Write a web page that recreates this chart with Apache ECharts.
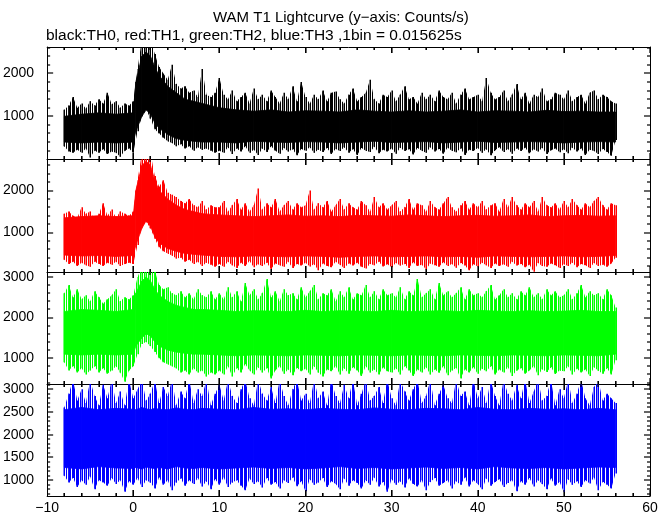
<!DOCTYPE html>
<html>
<head>
<meta charset="utf-8">
<script src="https://cdn.jsdelivr.net/npm/echarts@6/dist/echarts.min.js"></script>
<style>html,body{margin:0;padding:0;background:#fff;}#c{width:672px;height:515px;}</style>
</head>
<body>
<div id="c"></div>
<script>
// ---- Data ----
// Spike envelope: bins every 0.5 s from t = -8 s to t = 56 s (129 bins), high / low extreme (Counts/s)
const binStart = -8;
const binStep = 0.5;

const th0Hi = [1150,1250,1450,1200,1300,1180,1350,1250,1400,1300,1550,1280,1350,1200,1300,1250,
  1350,2100,2800,2800,2800,2450,2150,2000,1850,2200,1750,1650,1700,1550,1600,1450,2100,1500,1450,1550,
  1890,1500,1400,1600,1350,1450,1550,1300,1650,1400,
  1500,1350,1600,1450,1300,1550,1400,1700,1350,1800,
  1450,1300,1500,1400,1600,1350,1550,1580,1400,1300,
  1500,1650,1350,1450,1550,1850,1400,1300,1500,1450,
  1600,1350,1500,1700,1400,1450,1300,1550,1400,1500,
  1350,1600,1450,1400,1550,1300,1500,1650,1400,1450,
  1500,1350,1890,1550,1400,1450,1600,1350,1500,1750,
  1400,1550,1300,1500,1450,1650,1350,1400,1550,1500,
  1400,1600,1350,1450,1500,1300,1550,1600,1400,1500,
  1450,1350,1300];
const th0Lo = [300,180,150,220,150,250,40,200,150,230,120,180,150,60,200,250,
  150,650,1000,1150,950,700,600,500,420,380,300,350,250,300,200,280,220,250,200,150,
  200,150,280,120,250,180,300,150,220,100,
  250,170,300,200,130,260,180,230,90,240,
  200,280,150,220,170,260,120,240,190,280,
  150,230,100,260,200,170,290,140,220,180,
  250,130,270,190,230,110,260,200,150,280,
  180,240,130,270,200,160,250,100,220,190,
  260,150,230,90,210,280,170,240,130,250,
  190,270,140,230,180,260,120,210,250,160,
  230,140,270,180,250,100,220,190,120,240,
  170,80,450];

const th1Hi = [1450,1500,1400,1350,1600,1450,1500,1300,1450,1700,1400,1550,1350,1500,1450,1400,
  1500,2250,2900,2900,2900,2350,2100,2250,1950,1900,1850,1750,1700,1800,1650,1600,1750,1550,1650,1600,
  1600,1750,1500,1650,1800,1550,1700,1500,1650,2050,
  1550,1700,1600,1800,1500,1650,1750,1550,1700,1600,
  1650,2000,1550,1700,1600,1750,1500,1650,1800,1550,
  1700,1600,1550,1750,1650,1500,1850,1600,1700,1550,
  1650,1750,1500,1600,1800,1550,1700,1650,1500,1750,
  1600,1550,1700,1850,1600,1500,1650,1750,1550,1700,
  1600,1750,1550,1650,1700,1500,1800,1600,1850,1650,
  1550,1700,1600,1750,1500,1850,1650,1600,1700,1550,
  1750,1600,1800,1650,1550,1700,1600,1750,1850,1650,
  1550,1700,1650];
const th1Lo = [350,250,300,200,280,220,180,300,250,200,280,230,300,200,250,280,
  250,700,1150,1250,1100,850,650,550,500,450,380,400,300,350,250,300,200,280,230,180,
  250,180,300,220,150,280,200,320,170,240,
  200,280,130,260,220,180,300,150,250,210,
  280,190,240,100,260,200,170,300,230,150,
  260,210,280,180,140,250,220,300,190,240,
  170,270,210,250,150,290,200,230,120,260,
  220,180,290,200,250,160,270,210,100,240,
  190,280,220,150,260,200,240,180,300,210,
  250,170,230,60,270,200,180,260,220,150,
  240,200,280,170,250,220,150,270,200,230,
  180,260,400];

const th2Hi = [2600,2800,2500,2700,2450,2550,2400,2650,2500,2350,2450,2550,2700,2400,2500,2450,
  2550,3000,3250,3250,3250,3150,2800,2700,2750,2600,2550,2650,2500,2600,2450,2700,2550,2500,2650,2450,
  2600,2450,2750,2500,2650,2400,2850,2550,2700,2450,
  2600,2950,2500,2650,2400,2700,2550,2600,2450,2750,
  2500,2650,2800,2450,2600,2550,2700,2400,2650,2500,
  2750,2450,2600,2550,2800,2500,2650,2450,2700,2550,
  2600,2500,2750,2450,2650,2550,2950,2500,2600,2700,
  2450,2850,2550,2650,2500,2600,2750,2450,2700,2550,
  2600,2500,2650,2800,2450,2550,2700,2500,2600,2450,
  2650,2550,2750,2500,2600,2450,2700,2550,2650,2500,
  2550,2700,2450,2600,2800,2500,2650,2550,2600,2450,
  2700,2550,2250];
const th2Lo = [900,700,800,650,750,600,700,800,650,750,620,700,800,650,420,700,
  800,1100,1350,1400,1300,1150,1000,900,850,800,750,650,700,600,750,650,700,550,650,600,
  700,600,800,550,750,650,850,700,600,780,
  650,750,500,700,800,620,720,580,760,680,
  740,600,800,650,550,720,680,800,600,750,
  620,780,700,560,800,650,720,600,770,680,
  650,750,600,800,700,560,720,650,780,600,
  720,640,800,580,700,760,500,720,650,780,
  620,740,680,800,600,720,650,780,560,700,
  750,620,700,800,580,730,660,780,610,700,
  680,800,600,740,650,720,560,780,690,620,
  750,600,950];

const th3Hi = [2600,2900,3200,2750,3000,2700,3200,2850,2650,3100,
  2800,3200,2700,2950,2650,3200,2800,3000,3200,2750,
  2900,3200,2700,3050,2850,3200,2650,2950,2800,3200,
  2700,3000,2850,3200,2650,2900,3100,2750,3200,2850,
  2700,3000,3200,2800,2650,3200,2900,2750,3050,2700,
  3200,2850,2650,3000,3200,2750,2900,2700,3200,2800,
  2950,2650,3200,2850,2700,3100,2800,3200,2650,2900,
  3200,2750,2850,3050,2700,3200,2800,2650,3200,2950,
  2750,3000,3200,2700,2850,3200,2650,2900,3100,2800,
  2700,3200,2850,2950,2650,3200,2800,3050,2700,3200,
  2850,2650,3200,2900,2750,3100,2800,3200,2700,2950,
  3200,2750,2850,3200,2650,3000,2800,3200,2700,2900,
  3200,2800,2650,3050,3200,2750,2900,2800,2700];
const th3Lo = [1100,950,1050,850,1000,900,1080,800,1000,950,
  880,1050,920,1000,750,980,900,1050,850,1000,
  950,820,1060,900,1000,780,950,1040,880,1000,
  920,1050,860,980,800,1020,900,1060,850,950,
  1000,880,780,1040,920,980,840,1050,900,960,
  820,1000,940,1060,870,980,760,1020,900,950,
  1050,850,980,920,800,1040,880,1000,940,820,
  1000,900,1060,860,960,750,1020,900,980,840,
  1040,920,860,1000,780,960,1050,880,940,1000,
  820,980,900,1060,860,1000,920,800,1040,880,
  960,1020,850,940,1000,760,980,900,1050,860,
  1000,920,800,1040,880,960,740,1020,900,980,
  850,1000,930,1060,780,960,900,820,1150];

// Dense core of each light curve (solid region), read at these times (s)
const coreT = [-8,-6,-4,-2,0,0.3,1,1.5,2,2.5,3,4,5,6,7,8,10,12,14,16,18,20,22,24,26,28,30,32,34,36,38,40,42,44,46,48,50,52,54,56];
const th0CoreHi = [1000,1050,1080,1050,1080,1800,2400,2500,2400,2150,1950,1700,1550,1400,1350,1300,
  1200,1150,1120,1150,1100,1130,1120,1100,1150,1120,1100,1130,1100,1120,1150,1100,1130,1120,1100,1140,1110,1120,1100,1100];
const th0CoreLo = [400,380,400,380,400,650,1000,1150,1050,850,720,580,480,440,420,400,
  400,380,420,400,390,410,400,380,400,420,390,400,410,380,400,420,390,400,410,400,380,400,410,400];
const th1CoreHi = [1350,1380,1400,1380,1400,2000,2600,2700,2600,2250,2000,1800,1650,1550,1500,1450,
  1420,1400,1380,1400,1420,1390,1400,1380,1410,1400,1390,1420,1400,1380,1400,1410,1390,1400,1420,1380,1400,1410,1390,1400];
const th1CoreLo = [460,440,450,430,450,700,1100,1280,1150,900,750,620,550,500,480,460,
  430,420,440,430,420,440,430,410,430,440,420,430,440,420,430,410,440,430,420,430,440,420,430,450];
const th2CoreHi = [2150,2200,2180,2150,2200,2600,2900,3000,2900,2700,2550,2400,2300,2250,2200,2200,
  2180,2150,2170,2160,2150,2180,2150,2170,2160,2150,2180,2150,2160,2170,2150,2180,2160,2150,2170,2150,2160,2180,2150,2150];
const th2CoreLo = [1100,1080,1100,1080,1100,1300,1500,1600,1550,1400,1300,1200,1150,1120,1100,1100,
  1080,1060,1080,1070,1060,1080,1070,1060,1080,1070,1060,1080,1070,1060,1080,1070,1060,1080,1070,1060,1080,1070,1060,1100];
const th3CoreHi = [2550,2600,2550,2580,2560,2550,2600,2570,2550,2580,2560,2550,2590,2560,2550,2580,2560,2550,2600,2560,
  2570,2550,2580,2560,2550,2590,2560,2550,2580,2570,2550,2600,2560,2550,2580,2560,2570,2550,2580,2550];
const th3CoreLo = [1280,1250,1300,1270,1260,1280,1250,1290,1270,1260,1280,1250,1300,1270,1260,1280,1250,1270,1290,1260,
  1280,1250,1270,1300,1260,1280,1250,1270,1290,1260,1280,1250,1300,1270,1260,1280,1250,1270,1290,1280];

// Axis ranges and tick labels
const xRange = [-10, 60];
const xTickLabels = [-10, 0, 10, 20, 30, 40, 50, 60];
const xMinorStep = 2;
const yRanges = [[5, 2615], [57, 2755], [365, 3123], [654, 3115]];
const yMajor = [[1000, 2000], [1000, 2000], [1000, 2000, 3000], [1000, 1500, 2000, 2500, 3000]];
const yMinorStep = [200, 200, 200, 100];

const colors = ['#000000', '#ff0000', '#00ff00', '#0000ff'];
const spikes = [[th0Hi, th0Lo], [th1Hi, th1Lo], [th2Hi, th2Lo], [th3Hi, th3Lo]];
const cores = [[th0CoreHi, th0CoreLo], [th1CoreHi, th1CoreLo], [th2CoreHi, th2CoreLo], [th3CoreHi, th3CoreLo]];

const FONT = 'Liberation Sans, Arial, Helvetica, sans-serif';

function binTime(i) { return binStart + i * binStep; }
function binTimes(n) { const a = []; for (let i = 0; i < n; i++) a.push(binTime(i)); return a; }

function hairPattern(color) {
  const cv = document.createElement('canvas');
  cv.width = 2; cv.height = 2;
  const ctx = cv.getContext('2d');
  ctx.fillStyle = color;
  ctx.fillRect(0, 0, 1, 2);
  return { image: cv, repeat: 'repeat' };
}

function bandItems(ts, hi, lo) {
  const out = [];
  for (let i = 0; i < hi.length - 1; i++) out.push([ts[i], hi[i], lo[i], ts[i + 1], hi[i + 1], lo[i + 1]]);
  return out;
}

function bandRender(fill, stroke) {
  return function (params, api) {
    const a = api.coord([api.value(0), api.value(1)]);
    const b = api.coord([api.value(3), api.value(4)]);
    const c = api.coord([api.value(3), api.value(5)]);
    const d = api.coord([api.value(0), api.value(2)]);
    const style = { fill: fill };
    if (stroke) { style.stroke = stroke; style.lineWidth = 0.8; }
    return { type: 'polygon', shape: { points: [a, b, c, d] }, style: style };
  };
}

function spikeRender(color) {
  return function (params, api) {
    const top = api.coord([api.value(0), api.value(1)]);
    const bot = api.coord([api.value(0), api.value(2)]);
    return { type: 'rect', shape: { x: Math.round(top[0]) - 0.5, y: top[1], width: 1.5, height: bot[1] - top[1] },
      style: { fill: color } };
  };
}

function xTickValues(major) {
  const out = [];
  for (let v = xRange[0]; v <= xRange[1]; v += xMinorStep) {
    if ((xTickLabels.indexOf(v) >= 0) === major) out.push(v);
  }
  return out;
}
function yTickValues(k, major) {
  const out = [];
  const [mn, mx] = yRanges[k];
  const s = yMinorStep[k];
  for (let v = Math.ceil(mn / s) * s; v <= mx; v += s) {
    if ((yMajor[k].indexOf(v) >= 0) === major) out.push(v);
  }
  return out;
}

// One rect per tick, same structure as the spike marks. side: 'b','t','l','r'
function tickRender(k, side, len) {
  return function (params, api) {
    let shape;
    if (side === 'b' || side === 't') {
      const p = api.coord([api.value(0), side === 'b' ? yRanges[k][0] : yRanges[k][1]]);
      const x = Math.round(p[0]) - 0.6;
      shape = side === 'b' ? { x: x, y: p[1] - len, width: 1.2, height: len } : { x: x, y: p[1], width: 1.2, height: len };
    } else {
      const p = api.coord([side === 'l' ? xRange[0] : xRange[1], api.value(1)]);
      const y = Math.round(p[1]) - 0.6;
      shape = side === 'l' ? { x: p[0], y: y, width: len, height: 1.2 } : { x: p[0] - len, y: y, width: len, height: 1.2 };
    }
    return { type: 'rect', shape: shape, style: { fill: '#000' } };
  };
}

const gridTops = [47, 159, 272, 384];
const gridH = [112, 113, 112, 112];
const grids = [], xAxes = [], yAxes = [], ser = [];
const axisLineStyle = { color: '#000', width: 1 };

for (let k = 0; k < 4; k++) {
  grids.push({ left: 45, right: 22, top: gridTops[k], height: gridH[k] });
  ['bottom', 'top'].forEach(function (pos) {
    xAxes.push({
      type: 'value', gridIndex: k, position: pos, min: xRange[0], max: xRange[1], interval: 10,
      axisLine: { show: true, onZero: false, lineStyle: { color: '#000', width: 1 } },
      axisTick: { show: true, inside: true, length: 6, lineStyle: { color: '#000', width: 1 } },
      minorTick: { show: true, splitNumber: 5, length: 3, lineStyle: { color: '#000', width: 1 } },
      splitLine: { show: false },
      axisLabel: {
        show: (k === 3 && pos === 'bottom'),
        color: '#000', fontFamily: FONT, fontSize: 14, margin: 5,
        formatter: function (v) { return xTickLabels.indexOf(v) >= 0 ? String(v).replace('-', '\u2212') : ''; }
      }
    });
  });
  ['left', 'right'].forEach(function (pos) {
    yAxes.push({
      type: 'value', gridIndex: k, position: pos, min: yRanges[k][0], max: yRanges[k][1],
      splitLine: { show: false },
      axisLine: { show: true, onZero: false, lineStyle: { color: '#000', width: 1 } },
      axisTick: { show: false }, minorTick: { show: false },
      axisLabel: { show: pos === 'left', customValues: yMajor[k], color: '#000', fontFamily: FONT, fontSize: 14, margin: 13,
        formatter: function (v) { return String(v); } }
    });
  });
  const hi = spikes[k][0], lo = spikes[k][1];
  const base = { type: 'custom', coordinateSystem: 'cartesian2d', xAxisIndex: 2 * k, yAxisIndex: 2 * k, animation: false, silent: true };
  ser.push(Object.assign({}, base, {
    data: bandItems(binTimes(hi.length), hi, lo),
    encode: { x: [0, 3], y: [1, 2, 4, 5] },
    renderItem: bandRender(hairPattern(colors[k]), null), clip: true, z: 1
  }));
  ser.push(Object.assign({}, base, {
    data: bandItems(coreT, cores[k][0], cores[k][1]),
    encode: { x: [0, 3], y: [1, 2, 4, 5] },
    renderItem: bandRender(colors[k], colors[k]), clip: true, z: 2
  }));
  ser.push(Object.assign({}, base, {
    data: hi.map(function (v, i) { return [binTime(i), v, lo[i]]; }),
    encode: { x: 0, y: [1, 2] },
    renderItem: spikeRender(colors[k]), clip: true, z: 3
  }));
  const yMid = (yRanges[k][0] + yRanges[k][1]) / 2;
  const xMid = (xRange[0] + xRange[1]) / 2;
  [true, false].forEach(function (major) {
    const len = major ? 6 : 3;
    ['b', 't'].forEach(function (side) {
      ser.push(Object.assign({}, base, {
        data: xTickValues(major).map(function (v) { return [v, yMid]; }),
        encode: { x: 0, y: 1 },
        renderItem: tickRender(k, side, len), clip: true, z: 4
      }));
    });
    ['l', 'r'].forEach(function (side) {
      ser.push(Object.assign({}, base, {
        data: yTickValues(k, major).map(function (v) { return [xMid, v]; }),
        encode: { x: 0, y: 1 },
        renderItem: tickRender(k, side, len), clip: true, z: 4
      }));
    });
  });
}

const chart = echarts.init(document.getElementById('c'), null, { renderer: 'canvas' });
chart.setOption({
  backgroundColor: '#fff',
  animation: false,
  title: [
    { text: 'WAM T1 Lightcurve (y\u2212axis: Counts/s)', left: 213, top: 10, padding: 0,
      textStyle: { fontFamily: FONT, fontSize: 15, fontWeight: 'normal', color: '#000' } },
    { text: 'black:TH0, red:TH1, green:TH2, blue:TH3 ,1bin = 0.015625s', left: 46, top: 28, padding: 0,
      textStyle: { fontFamily: FONT, fontSize: 15.5, fontWeight: 'normal', color: '#000' } }
  ],
  grid: grids,
  xAxis: xAxes,
  yAxis: yAxes,
  series: ser
});
</script>
</body>
</html>
